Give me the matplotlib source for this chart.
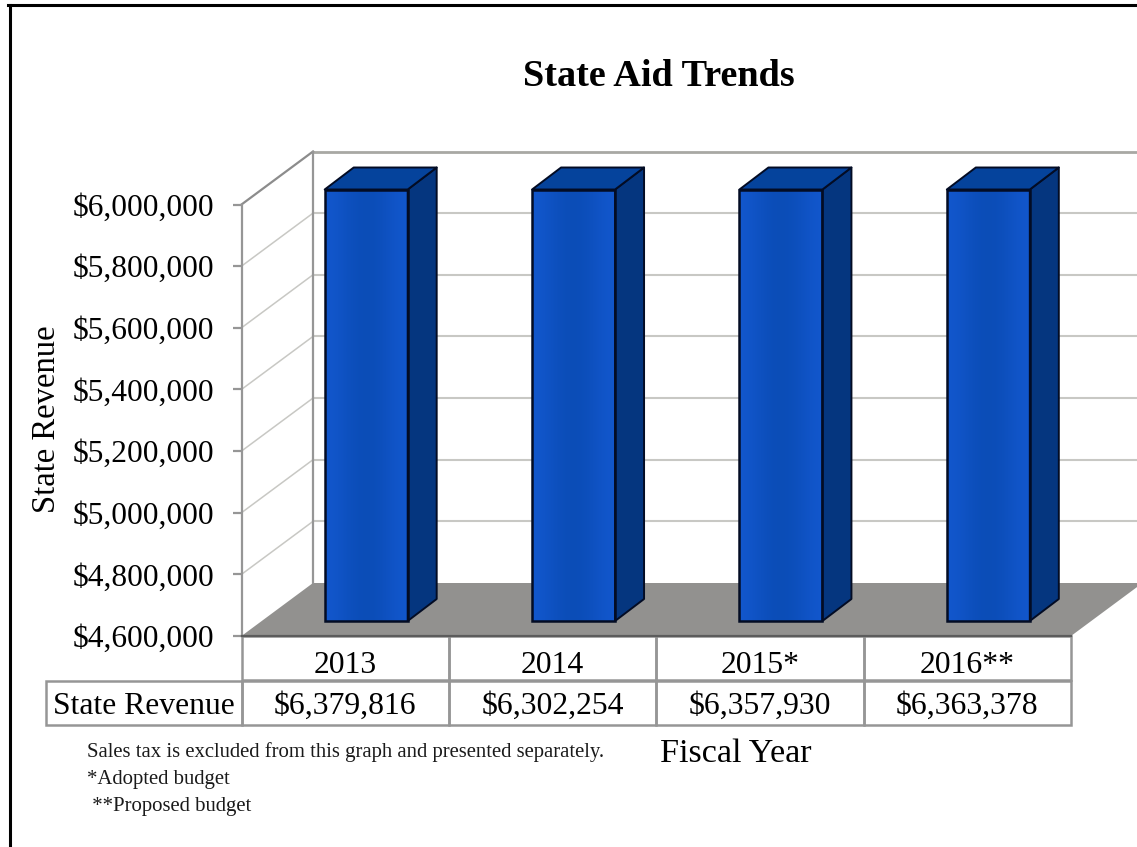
import matplotlib
matplotlib.use("Agg")
import matplotlib.pyplot as plt
from matplotlib.lines import Line2D
from matplotlib.patches import Polygon
from matplotlib.transforms import Affine2D
import numpy as np

plt.rcParams["font.family"] = ["Liberation Serif", "DejaVu Serif"]

years = ["2013", "2014", "2015*", "2016**"]
revenue = [6379816, 6302254, 6357930, 6363378]
revenue_labels = ["$6,379,816", "$6,302,254", "$6,357,930", "$6,363,378"]
row_label = "State Revenue"
y_ticks = [4600000, 4800000, 5000000, 5200000, 5400000, 5600000, 5800000, 6000000]
footnotes = ["Sales tax is excluded from this graph and presented separately.",
             "*Adopted budget",
             " **Proposed budget"]

W, H = 1137, 847
LEFT, RIGHT, TOP, BOTTOM = 241.5, 1071.0, 204.5, 636.0

fig = plt.figure(figsize=(W / 100, H / 100), dpi=100, facecolor="white")
ax = fig.add_axes([LEFT / W, 1 - BOTTOM / H, (RIGHT - LEFT) / W, (BOTTOM - TOP) / H])
ax.patch.set_visible(False)
ymin, ymax = y_ticks[0], y_ticks[-1]
xmax = len(years)
px_x = xmax / (RIGHT - LEFT)
px_y = (ymax - ymin) / (BOTTOM - TOP)


def depth(x, y, dx, dy):
    """Push a data point back into the chart by dx, dy pixels."""
    return (x + dx * px_x, y + dy * px_y)


def fake_3d_face(points, color, zorder, edge="none"):
    ax.add_patch(Polygon(points, closed=True, facecolor=color, edgecolor=edge,
                         linewidth=1.4, zorder=zorder, clip_on=False, joinstyle="round"))


WALL_X, WALL_Y = 71.5, 53
GRID = "#c8c8c4"
FRAME = "#969696"

# floor
fake_3d_face([(0, ymin), (xmax, ymin), depth(xmax, ymin, WALL_X, WALL_Y), depth(0, ymin, WALL_X, WALL_Y)],
             "#92918f", 1)

# back wall and side wall grid lines
for t in y_ticks:
    color, lw = (FRAME, 1.6) if t == ymax else (GRID, 1.1)
    p0 = depth(0, t, WALL_X, WALL_Y)
    p1 = depth(xmax, t, WALL_X, WALL_Y)
    if t == ymax:
        color = "#a8a8a4"
    if t > ymin:
        ax.plot([p0[0], p1[0]], [p0[1], p1[1]], color=color, lw=lw + 0.4, zorder=1.5, clip_on=False)
        ax.plot([0, p0[0]], [t, p0[1]], color="#8c8c8c" if t == ymax else GRID, lw=lw, zorder=1.5, clip_on=False)
p_low = depth(0, ymin, WALL_X, WALL_Y)
p_high = depth(0, ymax, WALL_X, WALL_Y)
ax.plot([p_low[0], p_high[0]], [p_low[1], p_high[1]], color=FRAME, lw=1.6, zorder=1.5, clip_on=False)

# bars, cut off at the top of the value axis
BAR_W = 83 * px_x
OFF_X, OFF_Y = 21, 15
BAR_DX, BAR_DY = 29, 22
positions = np.arange(len(years)) + 0.5 + OFF_X * px_x
heights = np.minimum(revenue, ymax) - ymin
bars = ax.bar(positions, heights, width=BAR_W, bottom=ymin + OFF_Y * px_y, facecolor="none",
              edgecolor="#030c24", linewidth=1.8, zorder=5, clip_on=False)

shade = np.array([[0.07, 0.34, 0.80], [0.05, 0.31, 0.74], [0.04, 0.30, 0.71],
                  [0.05, 0.31, 0.74], [0.07, 0.34, 0.80]])[np.newaxis, :, :]
for bar in bars:
    x0, x1 = bar.get_x(), bar.get_x() + bar.get_width()
    y0, y1 = bar.get_y(), bar.get_y() + bar.get_height()
    ax.imshow(shade, extent=[x0, x1, y0, y1], aspect="auto", interpolation="bicubic",
              zorder=4, clip_on=False)
    fake_3d_face([(x1, y0), depth(x1, y0, BAR_DX, BAR_DY), depth(x1, y1, BAR_DX, BAR_DY), (x1, y1)],
                 "#05367f", 4, edge="#030c24")
    fake_3d_face([(x0, y1), (x1, y1), depth(x1, y1, BAR_DX, BAR_DY), depth(x0, y1, BAR_DX, BAR_DY)],
                 "#05439c", 4, edge="#030c24")

ax.set_xlim(0, xmax)
ax.set_ylim(ymin, ymax)
ax.set_xticks([])
ax.set_yticks(y_ticks)
ax.set_yticklabels(["${:,}".format(t) for t in y_ticks], fontsize=22.6)
ax.tick_params(axis="y", length=6.5, width=1.6, color=FRAME, pad=13)
for side in ["top", "right", "bottom"]:
    ax.spines[side].set_visible(False)
ax.spines["left"].set_color(FRAME)
ax.spines["left"].set_linewidth(1.6)

ax.set_ylabel("State Revenue", fontsize=23.5, va="center")
ax.yaxis.set_label_coords((47 - LEFT) / (RIGHT - LEFT), 0.503)
ax.set_xlabel("Fiscal Year", fontsize=24.6, va="center")
ax.xaxis.set_label_coords((736 - LEFT) / (RIGHT - LEFT), (BOTTOM - 754) / (BOTTOM - TOP))
ax.set_title("State Aid Trends", fontsize=27.5, fontweight="bold", pad=85, x=0.503)

# data table below the floor
label_w = (LEFT - 46) / (RIGHT - LEFT)
table = ax.table(cellText=[[""] + years, [row_label] + revenue_labels],
                 colWidths=[label_w] + [1 / xmax] * xmax, cellLoc="center",
                 bbox=[-label_w, -(725 - BOTTOM) / (BOTTOM - TOP), 1 + label_w, (725 - BOTTOM) / (BOTTOM - TOP)],
                 zorder=3)
table.auto_set_font_size(False)
table.set_fontsize(22.8)
for (row, col), cell in table.get_celld().items():
    cell.set_edgecolor(FRAME)
    cell.set_linewidth(1.8)
    cell.set_facecolor("none")
    # cell text sits a little below the middle of its row
    cell.get_text().set_transform(Affine2D().translate(0, -7 if row == 0 else -4))
    if row == 0 and col == 0:
        cell.visible_edges = ""
ax.plot([0, xmax], [ymin, ymin], color="#5c5c5c", lw=1.6, zorder=3.5, clip_on=False)

# footnotes
fig.text(87 / W, 1 - 752 / H, footnotes[0], fontsize=14.95, va="center", color="#1a1a1a")
fig.text(87 / W, 1 - 779 / H, footnotes[1], fontsize=14.95, va="center", color="#1a1a1a")
fig.text(87 / W, 1 - 806 / H, footnotes[2], fontsize=14.95, va="center", color="#1a1a1a")

# outer frame: only the top and left edges land on the canvas
fig.add_artist(Line2D([9.5 / W, 9.5 / W], [0, 1 - 5.5 / H], color="black", lw=2.2))
fig.add_artist(Line2D([8 / W, 1], [1 - 5.5 / H, 1 - 5.5 / H], color="black", lw=2.2))

fig.savefig("out.png", dpi=100)
